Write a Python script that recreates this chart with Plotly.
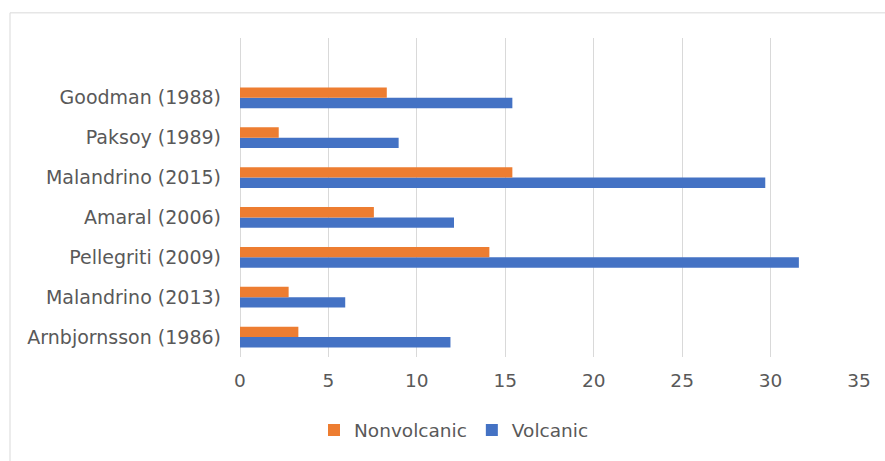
import plotly.graph_objects as go

studies = ["Arnbjornsson (1986)", "Malandrino (2013)", "Pellegriti (2009)",
           "Amaral (2006)", "Malandrino (2015)", "Paksoy (1989)", "Goodman (1988)"]
volcanic = [11.9, 5.95, 31.6, 12.1, 29.7, 8.97, 15.4]
nonvolcanic = [3.3, 2.75, 14.1, 7.57, 15.4, 2.19, 8.3]
x_ticks = [0, 5, 10, 15, 20, 25, 30, 35]

W, H = 885, 461
L, R, T, B = 240, 26, 38, 102
pw, ph = W - L - R, H - T - B

font = dict(family="DejaVu Sans", size=18.5, color="#595959")
yfont = dict(family="DejaVu Sans", size=19, color="#595959")

fig = go.Figure()
fig.add_trace(go.Bar(y=studies, x=volcanic, name="Volcanic", orientation="h",
                     marker=dict(color="#4472C4", line=dict(width=0))))
fig.add_trace(go.Bar(y=studies, x=nonvolcanic, name="Nonvolcanic", orientation="h",
                     marker=dict(color="#ED7D31", line=dict(width=0))))

fig.update_layout(
    width=W, height=H,
    margin=dict(l=L, r=R, t=T, b=B, pad=0),
    paper_bgcolor="white", plot_bgcolor="white",
    barmode="group", bargap=0.48, bargroupgap=0,
    font=font,
    showlegend=True,
    legend=dict(orientation="h", traceorder="reversed",
                x=(454 - L) / pw, xanchor="center",
                y=-(433 - (T + ph)) / ph, yanchor="middle",
                font=font, bgcolor="rgba(0,0,0,0)", itemwidth=30),
    xaxis=dict(range=[0, 35], tickvals=x_ticks, showgrid=True,
               gridcolor="#d9d9d9", gridwidth=1, zeroline=True,
               zerolinecolor="#d9d9d9", zerolinewidth=1, showline=False,
               ticks="", ticklabelstandoff=10, tickfont=font, fixedrange=True),
    yaxis=dict(type="category", categoryorder="array", categoryarray=studies,
               range=[-0.5, 7.5], showgrid=False, zeroline=False, showline=False,
               ticks="", ticklabelstandoff=18, tickfont=yfont, fixedrange=True),
    shapes=[dict(type="rect", xref="paper", yref="paper",
                 x0=(10 - L) / pw, x1=1 + (R + 20) / pw,
                 y0=-(B + 20) / ph, y1=1 + (T - 12.7) / ph,
                 line=dict(color="#d9d9d9", width=1), fillcolor="rgba(0,0,0,0)",
                 layer="below")],
)

fig.write_html("out.html")
